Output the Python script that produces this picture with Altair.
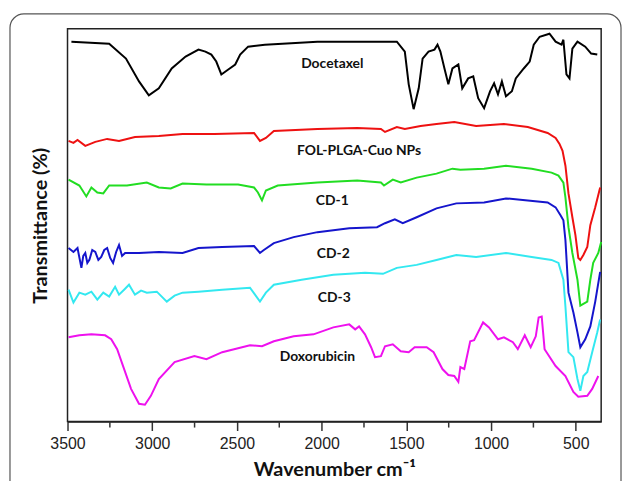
import altair as alt
import pandas as pd

series_names = ["Docetaxel", "FOL-PLGA-Cuo NPs", "CD-1", "CD-2", "CD-3", "Doxorubicin"]
series_colors = ["#000000", "#ee1111", "#22dd22", "#1515cc", "#33e8f0", "#ee11ee"]

doce_wn = [3477, 3254, 3155, 3078, 3020, 2961, 2885, 2803, 2727, 2686, 2651, 2622, 2592, 2551, 2510, 2481,
           2434, 2335, 2025, 1556, 1509, 1486, 1457, 1427, 1404, 1369, 1334, 1316, 1299, 1275, 1252, 1228,
           1193, 1170, 1135, 1105, 1076, 1041, 1006, 982, 959, 936, 912, 877, 854, 807, 772, 748, 713, 655,
           619, 584, 573, 555, 537, 520, 490, 444, 409, 373]
doce_t = [388, 386, 371, 348, 334, 341, 361, 373, 380, 378, 375, 368, 355, 360, 365, 375,
          383, 385, 388, 388, 378, 345, 320, 341, 371, 378, 380, 385, 378, 361, 345, 361,
          365, 341, 351, 353, 331, 321, 338, 346, 335, 348, 333, 338, 351, 361, 368, 385, 393, 396,
          388, 385, 390, 355, 351, 381, 388, 383, 376, 375]

fol_wn = [3494, 3465, 3441, 3395, 3336, 3266, 3196, 3102, 2961, 2821, 2633, 2399, 2364, 2329, 2282, 2025,
          1790, 1650, 1626, 1556, 1509, 1416, 1322, 1217, 1088, 924, 783, 666, 619, 596, 578, 561, 543,
          520, 502, 485, 473, 455, 432, 414, 385, 356]
fol_t = [288, 286, 289, 283, 287, 290, 288, 292, 293, 295, 295, 296, 288, 291, 298, 300,
         301, 300, 297, 302, 300, 303, 305, 307, 303, 305, 302, 296, 291, 285, 278, 263, 235,
         211, 193, 170, 168, 173, 181, 203, 221, 241]

cd1_wn = [3494, 3430, 3389, 3359, 3324, 3289, 3254, 3149, 3032, 2961, 2891, 2821, 2680, 2493, 2399, 2376,
          2352, 2329, 2259, 2025, 1790, 1650, 1632, 1580, 1533, 1439, 1322, 1228, 1181, 1041, 912, 760,
          643, 602, 573, 561, 543, 520, 490, 473, 432, 414, 397, 367, 350]
cd1_t = [249, 243, 232, 241, 236, 235, 243, 243, 246, 241, 240, 245, 244, 244, 241, 236,
         228, 238, 243, 246, 248, 246, 243, 249, 246, 251, 255, 260, 259, 260, 263, 260,
         256, 253, 246, 231, 201, 175, 148, 122, 126, 148, 165, 175, 186]

cd2_wn = [3494, 3465, 3441, 3418, 3407, 3395, 3383, 3371, 3354, 3336, 3318, 3301, 3283, 3266, 3248, 3231,
          3213, 3196, 3178, 3160, 3078, 2961, 2821, 2727,
          2587, 2399, 2364, 2341, 2282, 2165, 2025, 1837, 1673, 1626, 1568, 1521, 1439, 1322, 1205, 1041,
          912, 783, 666, 619, 590, 573, 561, 543, 514, 490, 473, 444, 414, 385, 356]
cd2_t = [180, 176, 180, 160, 172, 175, 165, 168, 178, 176, 168, 171, 178, 180, 170, 165,
         176, 183, 172, 175, 175, 176, 175, 180,
         181, 182, 175, 178, 185, 191, 196, 200, 201, 205, 209, 205, 211, 220, 225, 226,
         230, 228, 226, 221, 213, 208, 188, 135, 115, 95, 80, 88, 101, 126, 156]

cd3_wn = [3494, 3465, 3430, 3395, 3359, 3324, 3289, 3254, 3219, 3196, 3166, 3137, 3102, 3066, 3032, 2973,
          2914, 2868, 2821, 2727,
          2587, 2423, 2364, 2329, 2282, 2118, 1931, 1744, 1638, 1556, 1439, 1322, 1205, 1088, 912, 760,
          643, 602, 573, 561, 543, 514, 490, 473, 455, 432, 403, 373, 356]
cd3_t = [138, 125, 135, 133, 136, 128, 135, 131, 141, 133, 138, 143, 133, 137, 135, 136,
         126, 132, 135, 136,
         138, 140, 126, 135, 143, 148, 153, 155, 154, 160, 163, 168, 173, 171, 175, 171,
         168, 165, 148, 121, 75, 70, 48, 36, 51, 55, 75, 95, 108]

dox_wn = [3494, 3430, 3359, 3278, 3242, 3207, 3172, 3125, 3078, 3043, 3008, 2961, 2868, 2751, 2680, 2587,
          2423, 2352, 2282, 2165, 2048, 1931, 1837, 1802, 1779, 1744, 1708, 1685, 1650, 1626, 1580, 1533,
          1486, 1451, 1380, 1339, 1287, 1252, 1217, 1193, 1181, 1158, 1123, 1100, 1047, 1012, 959, 924,
          871, 842, 801, 766, 736, 719, 701, 684, 619, 561, 514, 485, 432, 403, 367]
dox_t = [90, 92, 93, 92, 88, 78, 61, 38, 23, 22, 31, 48, 65, 71, 68, 75,
         82, 81, 86, 91, 93, 100, 103, 98, 101, 93, 80, 70, 71, 81, 83, 76,
         75, 80, 80, 75, 58, 52, 51, 45, 60, 58, 86, 87, 105, 100, 88, 90,
         85, 78, 92, 80, 91, 110, 111, 78, 61, 51, 35, 30, 31, 38, 51]

label_wn = [1937, 1779, 1937, 1931, 1925, 2025]
label_t = [365, 278, 227, 174, 130, 70]

major_ticks = [500, 1000, 1500, 2000, 2500, 3000, 3500]
minor_ticks = [750, 1250, 1750, 2250, 2750, 3250]

all_wn = [doce_wn, fol_wn, cd1_wn, cd2_wn, cd3_wn, dox_wn]
all_t = [doce_t, fol_t, cd1_t, cd2_t, cd3_t, dox_t]

rows = []
for name, wns, ts in zip(series_names, all_wn, all_t):
    for i, (w, t) in enumerate(zip(wns, ts)):
        rows.append({"series": name, "wn": w, "t": t, "idx": i})
df = pd.DataFrame(rows)
labels_df = pd.DataFrame({"series": series_names, "wn": label_wn, "t": label_t})
minor_df = pd.DataFrame({"wn": minor_ticks})

W, H = 538, 396
x_scale = alt.Scale(domain=[350, 3500], reverse=True, nice=False, zero=False)
y_scale = alt.Scale(domain=[5, 401], nice=False, zero=False)

x_axis = alt.Axis(
    title="Wavenumber cm⁻¹", values=major_ticks, format="d",
    labelFont="Liberation Sans", labelFontSize=16, labelColor="#222", labelPadding=5,
    labelOverlap=False, labelFlush=False, tickSize=9, tickColor="#333", tickWidth=1.5,
    domainColor="#222", domainWidth=1.5, grid=False,
    titleFont="Lato", titleFontWeight="bold", titleFontSize=20, titleColor="#111", titlePadding=8,
)
y_axis = alt.Axis(
    title="Transmittance (%)", labels=False, ticks=False, domain=False, grid=False,
    titleFont="Lato", titleFontWeight="bold", titleFontSize=20, titleColor="#111", titlePadding=17,
)

border = alt.Chart(pd.DataFrame({"a": [0]})).mark_rect(
    cornerRadius=14, fillOpacity=0, stroke="#555", strokeWidth=1.2
).encode(x=alt.value(-58), x2=alt.value(558), y=alt.value(-15), y2=alt.value(490))

minor = alt.Chart(minor_df).mark_rule(color="#333", strokeWidth=1.5).encode(
    x=alt.X("wn:Q", scale=x_scale),
    y=alt.value(H), y2=alt.value(H + 6),
)

lines = alt.Chart(df).mark_line(strokeWidth=2).encode(
    x=alt.X("wn:Q", scale=x_scale, axis=x_axis),
    y=alt.Y("t:Q", scale=y_scale, axis=y_axis),
    color=alt.Color("series:N", scale=alt.Scale(domain=series_names, range=series_colors), legend=None),
    order="idx:Q",
)

texts = alt.Chart(labels_df).mark_text(
    font="Lato", fontWeight="bold", fontSize=14, color="#111"
).encode(
    x=alt.X("wn:Q", scale=x_scale),
    y=alt.Y("t:Q", scale=y_scale),
    text="series:N",
)

chart = alt.layer(border, lines, minor, texts).properties(
    width=W, height=H,
    autosize=alt.AutoSizeParams(type="none"),
    padding={"left": 60, "top": 19, "right": 21, "bottom": 70},
).configure_view(stroke="#222", strokeWidth=1.5)

chart.save("out.html", embed_options={"renderer": "svg", "actions": False})
